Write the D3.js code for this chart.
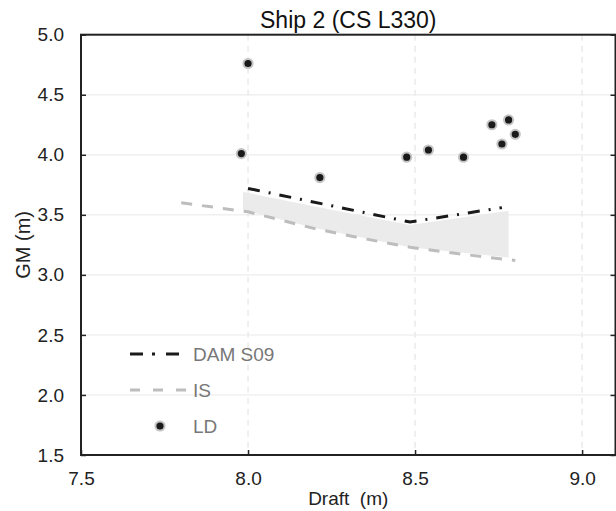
<!DOCTYPE html>
<html>
<head>
<meta charset="utf-8">
<script src="https://cdn.jsdelivr.net/npm/d3@7"></script>
<style>
  body { margin: 0; background: #fff; }
  text { font-family: "Liberation Sans", Arial, sans-serif; }
</style>
</head>
<body>
<svg width="616" height="511"></svg>
<script>
  // LD points
  const ldDraft = [7.98, 8.00, 8.215, 8.475, 8.54, 8.645, 8.73, 8.76, 8.78, 8.80];
  const ldGM = [4.01, 4.76, 3.81, 3.98, 4.04, 3.98, 4.25, 4.09, 4.29, 4.17];

  // DAM S09 line
  const damDraft = [8.00, 8.485, 8.76];
  const damGM = [3.72, 3.44, 3.56];

  // IS line
  const isDraft = [7.80, 8.00, 8.20, 8.35, 8.485, 8.62, 8.765, 8.80];
  const isGM = [3.60, 3.525, 3.385, 3.30, 3.23, 3.18, 3.13, 3.12];

  // grey band
  const bandDraft = [7.985, 8.20, 8.485, 8.78];
  const bandTop = [3.69, 3.57, 3.415, 3.535];
  const bandBottom = [3.54, 3.39, 3.23, 3.145];

  const xTicks = [7.5, 8.0, 8.5, 9.0];
  const yTicks = [1.5, 2.0, 2.5, 3.0, 3.5, 4.0, 4.5, 5.0];

  (function (d3) {
    const svg = d3.select('svg');

    const pLeft = 81, pRight = 615.5, pTop = 34.7, pBottom = 455;

    const x = d3.scaleLinear().domain([7.5, 9.1]).range([pLeft, pRight]);
    const y = d3.scaleLinear().domain([1.5, 5.0]).range([pBottom, pTop]);

    // grid
    svg.append('g').selectAll('line').data(yTicks.slice(1, -1))
      .enter().append('line')
        .attr('x1', pLeft).attr('x2', pRight)
        .attr('y1', d => y(d)).attr('y2', d => y(d))
        .attr('stroke', '#f0f0f0').attr('stroke-width', 1.5);

    svg.append('g').selectAll('line').data(xTicks.slice(1))
      .enter().append('line')
        .attr('x1', d => x(d)).attr('x2', d => x(d))
        .attr('y1', pTop).attr('y2', pBottom)
        .attr('stroke', '#eaeaea').attr('stroke-width', 1.5)
        .attr('stroke-dasharray', '6,5');

    // band
    const band = bandDraft.map((d, i) => ({ x: d, y0: bandBottom[i], y1: bandTop[i] }));
    svg.append('path')
      .datum(band)
      .attr('fill', '#ebebeb')
      .attr('d', d3.area().x(d => x(d.x)).y0(d => y(d.y0)).y1(d => y(d.y1)));

    // IS line
    const isData = isDraft.map((d, i) => [d, isGM[i]]);
    svg.append('path')
      .datum(isData)
      .attr('fill', 'none')
      .attr('stroke', '#bdbdbd')
      .attr('stroke-width', 3)
      .attr('stroke-dasharray', '11,10')
      .attr('d', d3.line().x(d => x(d[0])).y(d => y(d[1])));

    // DAM line
    const damData = damDraft.map((d, i) => [d, damGM[i]]);
    svg.append('path')
      .datum(damData)
      .attr('fill', 'none')
      .attr('stroke', '#1a1a1a')
      .attr('stroke-width', 3)
      .attr('stroke-dasharray', '12,9,2,9')
      .attr('d', d3.line().x(d => x(d[0])).y(d => y(d[1])));

    // LD points
    svg.append('g').selectAll('circle').data(ldDraft.map((d, i) => [d, ldGM[i]]))
      .enter().append('circle')
        .attr('cx', d => x(d[0]))
        .attr('cy', d => y(d[1]))
        .attr('r', 4.6)
        .attr('fill', '#1a1a1a')
        .attr('stroke', '#c4c4c4')
        .attr('stroke-width', 2);

    // axes
    const xAxis = d3.axisBottom(x).tickValues(xTicks).tickFormat(d3.format('.1f'))
      .tickSizeInner(-5).tickSizeOuter(0).tickPadding(17);
    const xAxisG = svg.append('g').attr('transform', `translate(0,${pBottom})`).call(xAxis);
    xAxisG.select('.domain').remove();
    xAxisG.selectAll('line').attr('stroke', '#222').attr('stroke-width', 1.5);
    xAxisG.selectAll('text').attr('font-size', 19).attr('fill', '#222')
      .attr('font-family', '"Liberation Sans", Arial, sans-serif');

    const yAxis = d3.axisLeft(y).tickValues(yTicks).tickFormat(d3.format('.1f'))
      .tickSizeInner(-5).tickSizeOuter(0).tickPadding(17);
    const yAxisG = svg.append('g').attr('transform', `translate(${pLeft},0)`).call(yAxis);
    yAxisG.select('.domain').remove();
    yAxisG.selectAll('line').attr('stroke', '#222').attr('stroke-width', 1.5);
    yAxisG.selectAll('text').attr('font-size', 19).attr('fill', '#222')
      .attr('font-family', '"Liberation Sans", Arial, sans-serif');

    const yAxisR = d3.axisRight(y).tickValues(yTicks).tickFormat('')
      .tickSizeInner(-5).tickSizeOuter(0);
    const yAxisRG = svg.append('g').attr('transform', `translate(${pRight},0)`).call(yAxisR);
    yAxisRG.select('.domain').remove();
    yAxisRG.selectAll('line').attr('stroke', '#222').attr('stroke-width', 1.5);

    // frame
    svg.append('rect')
      .attr('x', pLeft).attr('y', pTop)
      .attr('width', pRight - pLeft).attr('height', pBottom - pTop)
      .attr('fill', 'none').attr('stroke', '#222').attr('stroke-width', 2);

    // title and labels
    svg.append('text')
      .attr('x', (pLeft + pRight) / 2).attr('y', 28)
      .attr('text-anchor', 'middle').attr('font-size', 23).attr('fill', '#111')
      .text('Ship 2 (CS L330)');

    svg.append('text')
      .attr('x', (pLeft + pRight) / 2).attr('y', 505)
      .attr('text-anchor', 'middle').attr('font-size', 19).attr('fill', '#222')
      .style('white-space', 'pre')
      .text('Draft  (m)');

    svg.append('text')
      .attr('transform', `translate(30,${(pTop + pBottom) / 2}) rotate(-90)`)
      .attr('text-anchor', 'middle').attr('font-size', 20).attr('fill', '#222')
      .text('GM (m)');

    // legend
    const legend = svg.append('g');
    const legendItems = ['DAM S09', 'IS', 'LD'];
    const legendY = [354, 390, 426];

    legend.append('line')
      .attr('x1', 130).attr('x2', 179).attr('y1', legendY[0]).attr('y2', legendY[0])
      .attr('stroke', '#1a1a1a').attr('stroke-width', 3)
      .attr('stroke-dasharray', '13,9,3,11');
    legend.append('line')
      .attr('x1', 130).attr('x2', 186).attr('y1', legendY[1]).attr('y2', legendY[1])
      .attr('stroke', '#bdbdbd').attr('stroke-width', 3)
      .attr('stroke-dasharray', '10,13');
    legend.append('circle')
      .attr('cx', 160).attr('cy', legendY[2]).attr('r', 4.6)
      .attr('fill', '#1a1a1a').attr('stroke', '#c4c4c4').attr('stroke-width', 2);

    legend.selectAll('text').data(legendItems)
      .enter().append('text')
        .attr('x', 193)
        .attr('y', (d, i) => legendY[i] + 7)
        .attr('font-size', 19).attr('fill', '#777')
        .text(d => d);
  }(d3));
</script>
</body>
</html>
